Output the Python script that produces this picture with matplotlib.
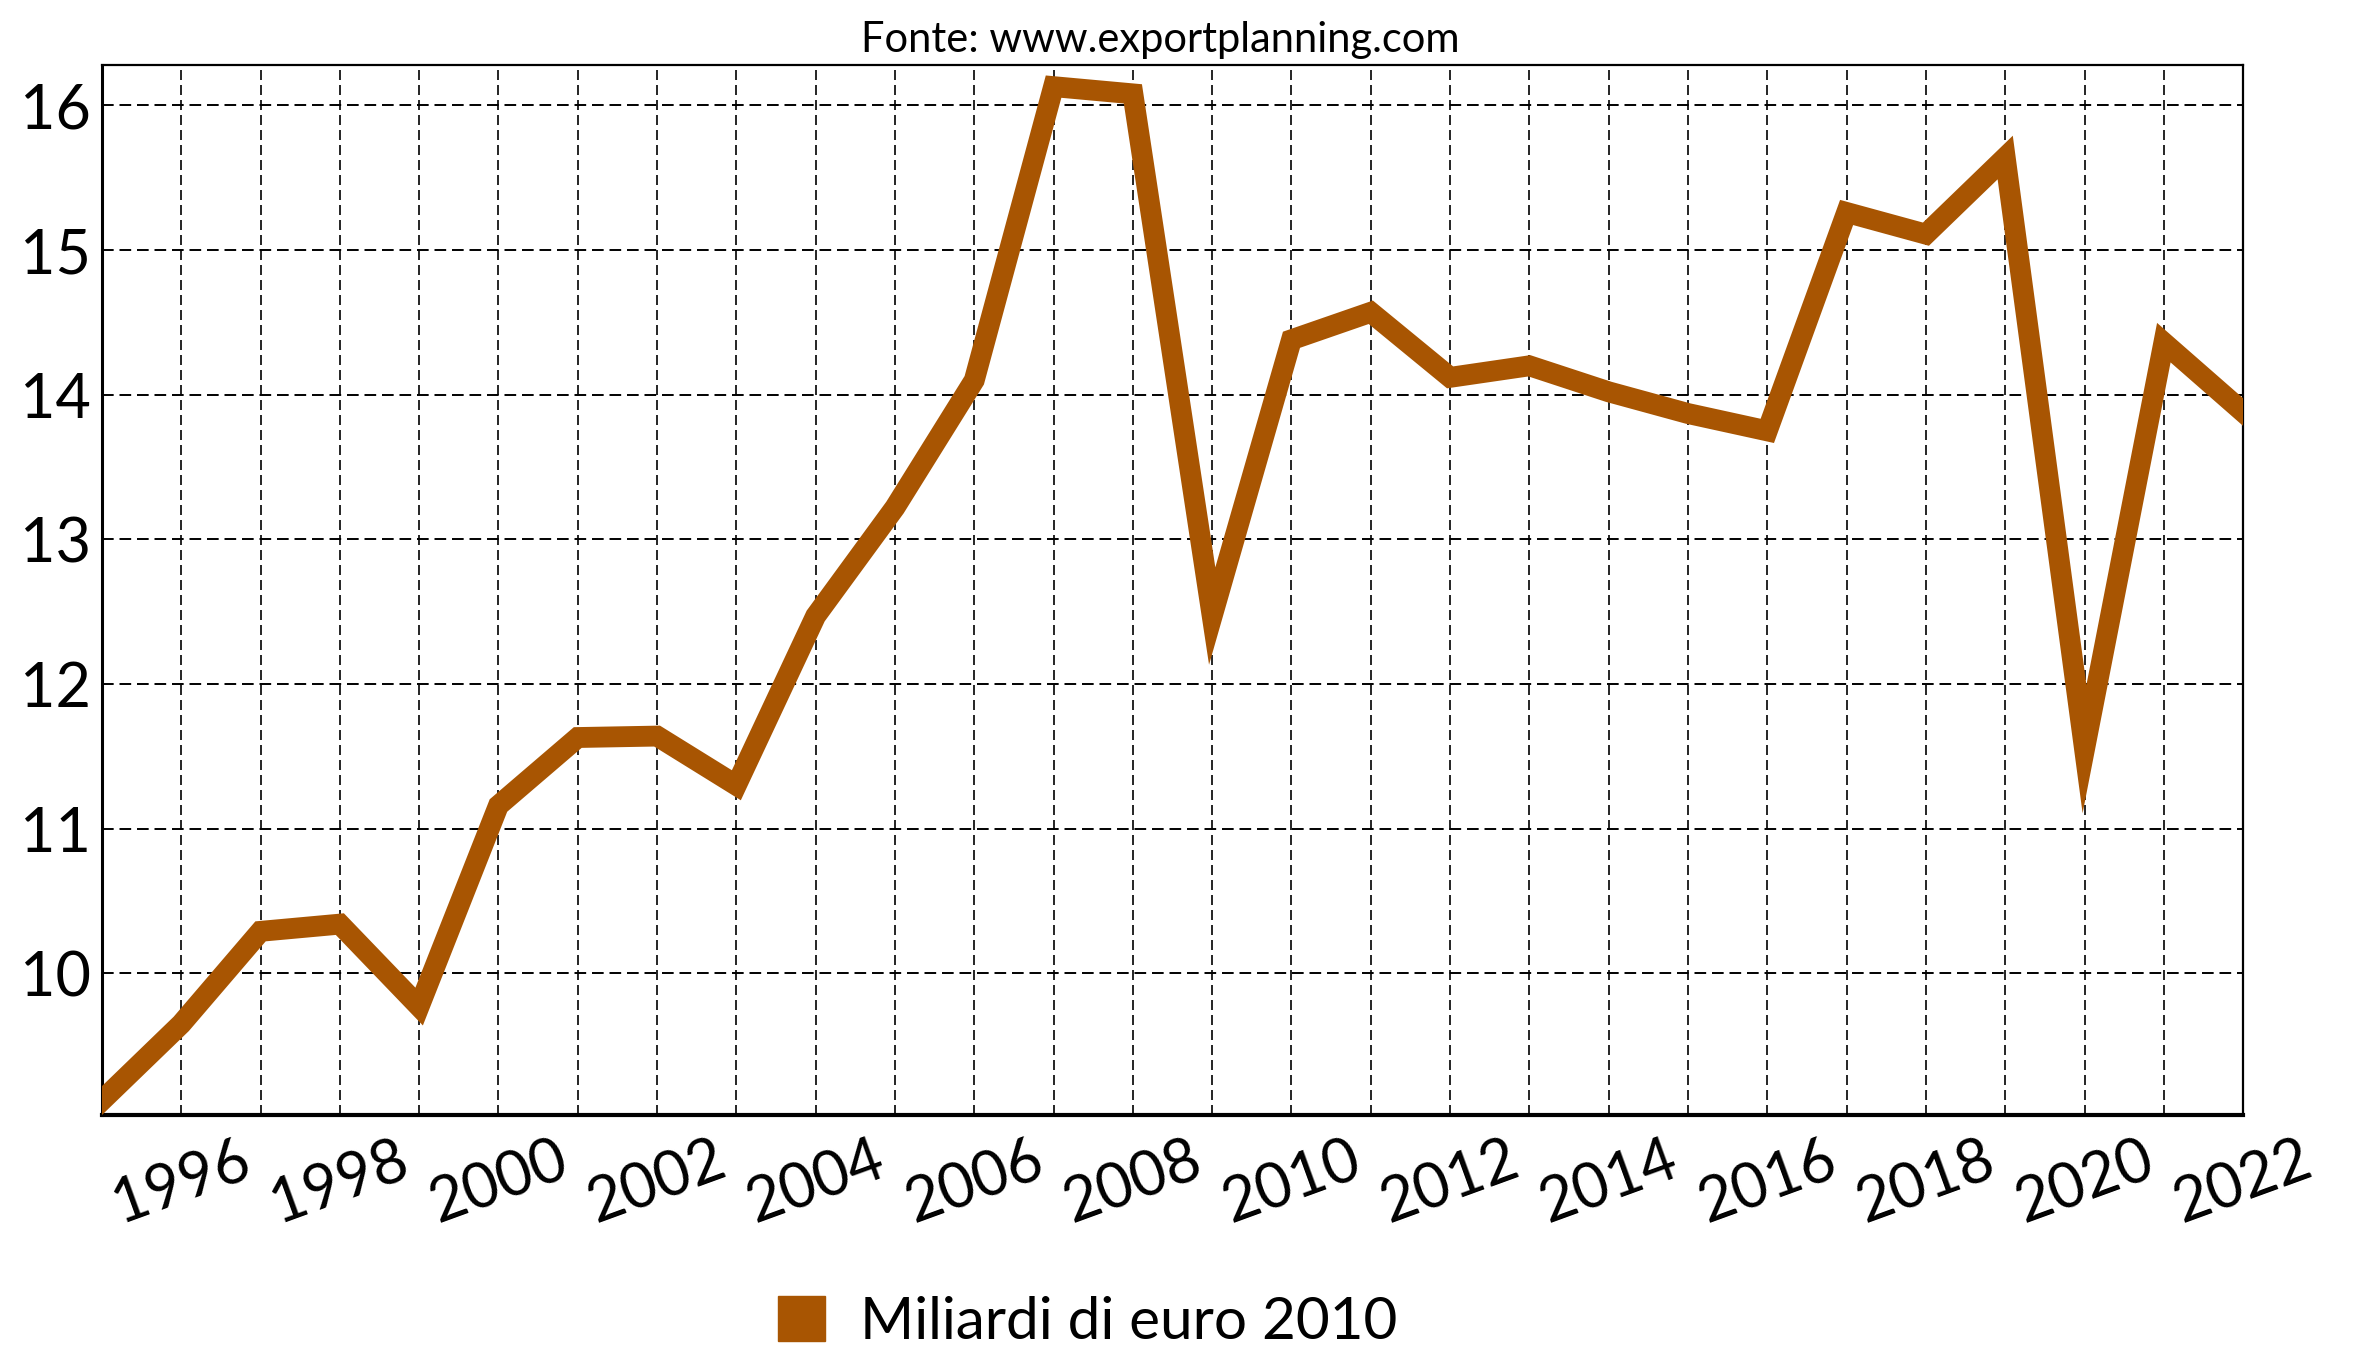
import matplotlib
matplotlib.use("Agg")
from matplotlib import pyplot as plt
from matplotlib.patches import Patch

# data
years = list(range(1995, 2023))
values = [9.12, 9.65, 10.29, 10.34, 9.77, 11.16, 11.63, 11.64, 11.30, 12.47,
          13.22, 14.10, 16.13, 16.08, 12.47, 14.38, 14.57, 14.12, 14.20, 14.02,
          13.87, 13.75, 15.26, 15.11, 15.64, 11.55, 14.36, 13.88]
xtick_years = list(range(1996, 2023, 2))
ytick_values = [10, 11, 12, 13, 14, 15, 16]
series_label = "Miliardi di euro 2010"
source_text = "Fonte: www.exportplanning.com"
line_color = "#a85502"

plt.rcParams['font.family'] = ['Lato', 'DejaVu Sans']

fig = plt.figure(figsize=(23.54, 13.70), dpi=100)
ax = fig.add_axes([0.0433, 0.1861, 0.9096, 0.7665])

ax.plot(years, values, color=line_color, linewidth=15, solid_joinstyle="miter", zorder=3)

ax.set_xlim(1995, 2022)
ax.set_ylim(9.02, 16.28)

# one dashed grid line per year, ticks labelled every two years
ax.set_xticks(years, minor=True)
ax.set_xticks(xtick_years)
ax.set_xticklabels([str(y) for y in xtick_years], rotation=20, ha="center", fontsize=44)
ax.set_yticks(ytick_values)
ax.set_yticklabels([str(v) for v in ytick_values], fontsize=44)
ax.tick_params(axis="both", which="both", length=0, pad=8)
ax.tick_params(axis="x", pad=12)

ax.grid(True, which="both", axis="x", color="black", linestyle=(0, (6, 3)), linewidth=1.2)
ax.grid(True, which="major", axis="y", color="black", linestyle=(0, (6, 3)), linewidth=1.4)

for side, lw in [("left", 2.2), ("bottom", 3.0), ("top", 1.6), ("right", 1.6)]:
    ax.spines[side].set_linewidth(lw)
    ax.spines[side].set_color("black")

fig.text(0.493, 0.985, source_text, ha="center", va="top", fontsize=30)

fig.legend(handles=[Patch(color=line_color, label=series_label)],
           loc="center", bbox_to_anchor=(0.462, 0.035), frameon=False,
           fontsize=42, handlelength=0.8, handleheight=0.8, handletextpad=0.6)

fig.savefig("out.png", dpi=100)
